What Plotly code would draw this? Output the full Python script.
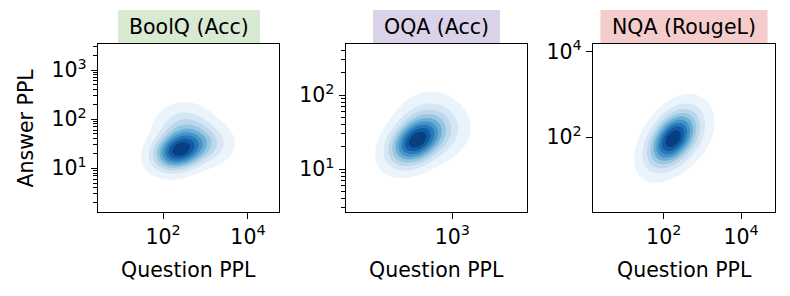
import numpy as np
import plotly.graph_objects as go

# ---------------- data ----------------
panel_titles = ["BoolQ (Acc)", "OQA (Acc)", "NQA (RougeL)"]
title_colors = ["#d9ead3", "#d9d2e9", "#f4cccc"]
x_label = "Question PPL"
y_label = "Answer PPL"

# density of (log10 Question PPL, log10 Answer PPL): three-component mixture per panel
comp_weight = [[0.60, 0.20, 0.20], [0.70, 0.15, 0.15], [0.80, 0.10, 0.10]]
comp_mx     = [[2.36, 2.50, 2.95], [2.38, 2.55, 2.80], [2.21, 2.35, 2.60]]
comp_my     = [[1.35, 1.85, 1.50], [1.37, 1.65, 1.50], [1.94, 2.20, 2.00]]
comp_sx     = [[0.36, 0.40, 0.40], [0.27, 0.30, 0.30], [0.40, 0.40, 0.45]]
comp_sy     = [[0.24, 0.28, 0.25], [0.20, 0.24, 0.22], [0.41, 0.42, 0.42]]
comp_rho    = [[0.20, 0.00, 0.00], [0.35, 0.10, 0.10], [0.45, 0.30, 0.30]]

x_tickvals = [[1e2, 1e4], [1e3], [1e2, 1e4]]
x_ticktext = [["10<sup>2</sup>", "10<sup>4</sup>"], ["10<sup>3</sup>"], ["10<sup>2</sup>", "10<sup>4</sup>"]]
y_tickvals = [[1e1, 1e2, 1e3], [1e1, 1e2], [1e2, 1e4]]
y_ticktext = [["10<sup>1</sup>", "10<sup>2</sup>", "10<sup>3</sup>"],
              ["10<sup>1</sup>", "10<sup>2</sup>"],
              ["10<sup>2</sup>", "10<sup>4</sup>"]]
y_minor = [True, True, False]

iso_props = np.linspace(0.05, 1.0, 10)   # seaborn-style iso-proportion levels

# ---------------- layout geometry ----------------
W, H = 790, 296
x_ranges = [[0.47, 4.73], [1.22, 4.245], [0.17, 4.88]]
y_ranges = [[0.11, 3.53], [0.42, 2.69], [0.255, 4.18]]
px_x = [[98, 279], [345.7, 527], [593, 775]]
px_y = [44, 212]
title_box_px = [[118, 260], [373, 500], [600.5, 767.5]]
title_box_py = [10, 44]

FONT = "DejaVu Sans"
FS = 20.5

# Blues colormap sampled at band midpoints
band_colors = ["#ecf4fb", "#d6e6f4", "#bdd7ec", "#98c7e0", "#6baed6",
               "#4795c8", "#2878b9", "#105ca4", "#083f81"]
colorscale = [[0.0, "rgba(255,255,255,0)"]]
for k, c in enumerate(band_colors):
    colorscale.append([(k + 1) / 9, c])

fig = go.Figure()
N = 220
for i in range(3):
    gx = np.linspace(x_ranges[i][0], x_ranges[i][1], N)
    gy = np.linspace(y_ranges[i][0], y_ranges[i][1], N)
    GX, GY = np.meshgrid(gx, gy)
    dens = np.zeros_like(GX)
    for w, mx, my, sx, sy, r in zip(comp_weight[i], comp_mx[i], comp_my[i],
                                     comp_sx[i], comp_sy[i], comp_rho[i]):
        u = (GX - mx) / sx
        v = (GY - my) / sy
        q = (u * u - 2 * r * u * v + v * v) / (1 - r * r)
        dens += w * np.exp(-0.5 * q) / (2 * np.pi * sx * sy * np.sqrt(1 - r * r))
    flat = dens.ravel()
    order = np.argsort(flat)[::-1]
    cum = np.cumsum(flat[order]) / flat.sum()
    z = np.empty_like(flat)
    z[order] = 1 - cum
    z = np.round(z.reshape(dens.shape), 4)

    sfx = "" if i == 0 else str(i + 1)
    step = (iso_props[-1] - iso_props[0]) / (len(iso_props) - 1)
    fig.add_trace(go.Contour(
        x=10 ** gx, y=10 ** gy, z=z,
        xaxis="x" + sfx, yaxis="y" + sfx,
        colorscale=colorscale, zmin=0, zmax=1,
        contours=dict(start=iso_props[0], end=iso_props[-2], size=step,
                      coloring="fill", showlines=False),
        line=dict(width=0), showscale=False, hoverinfo="skip",
    ))

    axcommon = dict(type="log", showline=True, mirror=True, linecolor="black",
                    linewidth=1.4, ticks="outside", ticklen=6, tickwidth=1.2,
                    tickcolor="black", showgrid=False, zeroline=False,
                    automargin=False,
                    tickfont=dict(family=FONT, size=FS, color="black"))
    xa = dict(axcommon,
              domain=[px_x[i][0] / W, px_x[i][1] / W],
              range=x_ranges[i], anchor="y" + sfx,
              tickmode="array", tickvals=x_tickvals[i], ticktext=x_ticktext[i])
    minors = []
    if y_minor[i]:
        for e in range(-1, 5):
            for m in range(2, 10):
                val = m * 10 ** e
                if y_ranges[i][0] < np.log10(val) < y_ranges[i][1]:
                    minors.append(val)
    ya = dict(axcommon,
              domain=[1 - px_y[1] / H, 1 - px_y[0] / H],
              range=y_ranges[i], anchor="x" + sfx,
              tickmode="array", tickvals=y_tickvals[i], ticktext=y_ticktext[i])
    if minors:
        ya["minor"] = dict(tickmode="array", tickvals=minors, ticks="outside",
                           ticklen=3.5, tickwidth=1, tickcolor="black", showgrid=False)
    fig.layout["xaxis" + sfx] = xa
    fig.layout["yaxis" + sfx] = ya

    # x axis title
    fig.add_annotation(text=x_label, xref="paper", yref="paper",
                       x=(px_x[i][0] + px_x[i][1]) / 2 / W, y=1 - 270 / H,
                       xanchor="center", yanchor="middle", showarrow=False,
                       font=dict(family=FONT, size=FS, color="black"))

    # title boxes
    fig.add_shape(type="rect", xref="paper", yref="paper",
                  x0=title_box_px[i][0] / W, x1=title_box_px[i][1] / W,
                  y0=1 - title_box_py[1] / H, y1=1 - title_box_py[0] / H,
                  fillcolor=title_colors[i], line=dict(width=0), layer="below")
    fig.add_annotation(text=panel_titles[i], xref="paper", yref="paper",
                       x=(title_box_px[i][0] + title_box_px[i][1]) / 2 / W,
                       y=1 - (title_box_py[0] + title_box_py[1]) / 2 / H,
                       xanchor="center", yanchor="middle", showarrow=False,
                       font=dict(family=FONT, size=FS, color="black"))

# y axis title (first panel only)
fig.add_annotation(text=y_label, xref="paper", yref="paper",
                   x=25.5 / W, y=1 - (px_y[0] + px_y[1]) / 2 / H, textangle=-90,
                   xanchor="center", yanchor="middle", showarrow=False,
                   font=dict(family=FONT, size=FS, color="black"))

fig.update_layout(width=W, height=H, margin=dict(l=0, r=0, t=0, b=0),
                  paper_bgcolor="white", plot_bgcolor="white", showlegend=False,
                  font=dict(family=FONT, size=FS, color="black"))
fig.write_html("out.html", config={"displayModeBar": False},
               post_script="document.body.style.margin='0';"
                           "document.body.style.overflow='hidden';")
